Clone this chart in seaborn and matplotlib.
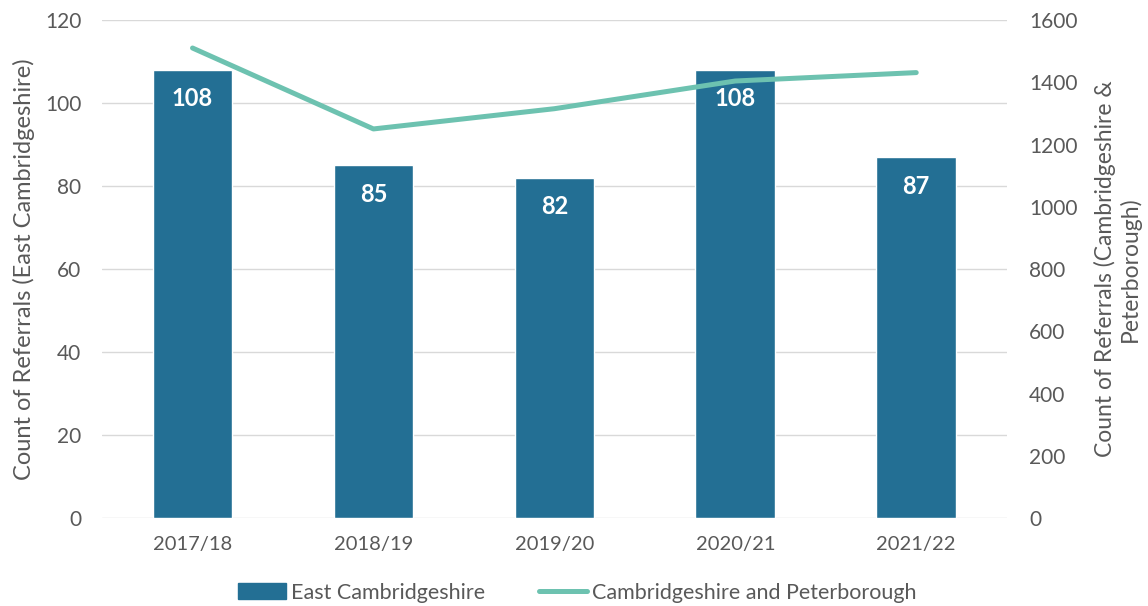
import matplotlib
matplotlib.use("Agg")
import matplotlib.pyplot as plt
import seaborn as sns
import pandas as pd
from matplotlib.patches import Patch
from matplotlib.lines import Line2D

# Referral counts per financial year
years = ["2017/18", "2018/19", "2019/20", "2020/21", "2021/22"]
east_cambs = [108, 85, 82, 108, 87]
cambs_peterborough = [1510, 1250, 1315, 1404, 1431]

BAR_COLOR = "#236f94"
LINE_COLOR = "#6dc2b0"
TEXT_COLOR = "#595959"
GRID_COLOR = "#d9d9d9"

sns.set_theme(style="white")
plt.rcParams["font.family"] = ["Lato", "DejaVu Sans"]

df = pd.DataFrame({"year": years, "east": east_cambs, "cp": cambs_peterborough})

fig = plt.figure(figsize=(11.48, 6.06), dpi=100)
ax = fig.add_axes([0.0889, 0.1452, 0.788, 0.8218])

sns.barplot(data=df, x="year", y="east", color=BAR_COLOR, width=0.44,
            saturation=1, ax=ax, zorder=2)
ax.set_ylim(0, 120)
ax.set_yticks(range(0, 121, 20))
ax.set_xlim(-0.5, 4.5)
ax.yaxis.grid(True, color=GRID_COLOR, linewidth=1, zorder=0)
ax.set_axisbelow(True)
for s in ax.spines.values():
    s.set_visible(False)
ax.set_xlabel("")
ax.set_ylabel("Count of Referrals (East Cambridgeshire)", fontsize=17,
              color=TEXT_COLOR, labelpad=7)
ax.tick_params(axis="y", length=0, labelsize=15, colors=TEXT_COLOR, pad=15)
ax.tick_params(axis="x", length=0, labelsize=14.5, colors=TEXT_COLOR, pad=13)

# value labels just inside the top of each bar
for i, v in enumerate(east_cambs):
    ax.annotate(str(v), xy=(i, v), xytext=(0, -21), textcoords="offset points",
                ha="center", va="center", color="white", fontsize=17,
                fontweight="bold")

ax2 = ax.twinx()
sns.lineplot(x=list(range(len(years))), y=cambs_peterborough, ax=ax2,
             color=LINE_COLOR, linewidth=3.6, solid_capstyle="round")
ax2.set_ylim(0, 1600)
ax2.set_yticks(range(0, 1601, 200))
for s in ax2.spines.values():
    s.set_visible(False)
ax2.set_ylabel("Count of Referrals (Cambridgeshire &\nPeterborough)",
               fontsize=16.5, color=TEXT_COLOR, labelpad=12, linespacing=1.15)
ax2.tick_params(axis="y", length=0, labelsize=15, colors=TEXT_COLOR, pad=16)
ax2.grid(False)

handles = [Patch(facecolor=BAR_COLOR, edgecolor=BAR_COLOR),
           Line2D([0], [0], color=LINE_COLOR, linewidth=3.6)]
labels = ["East Cambridgeshire", "Cambridgeshire and Peterborough"]
leg = fig.legend(handles, labels, loc="center", bbox_to_anchor=(0.503, 0.022),
                 ncol=2, frameon=False, fontsize=15.5, handlelength=2.2,
                 handleheight=0.75, handletextpad=0.25, columnspacing=2.5)
for t in leg.get_texts():
    t.set_color(TEXT_COLOR)

fig.savefig("out.png", dpi=100)
